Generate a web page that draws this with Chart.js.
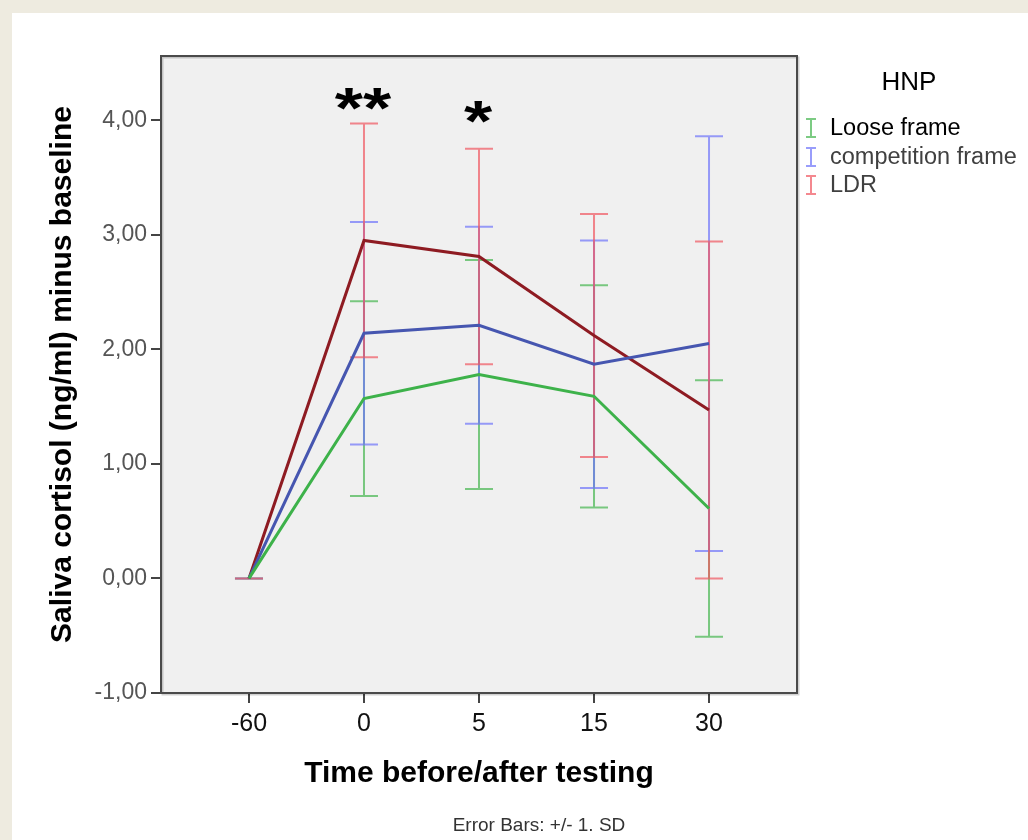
<!DOCTYPE html>
<html>
<head>
<meta charset="utf-8">
<script src="https://cdn.jsdelivr.net/npm/chart.js@4/dist/chart.umd.min.js"></script>
<style>
  html, body { margin: 0; padding: 0; background: #EEEBE0; width: 1028px; height: 840px; overflow: hidden; }
  #panel { position: absolute; left: 12px; top: 13px; width: 1016px; height: 827px; background: #FFFFFF; }
  canvas { display: block; }
</style>
</head>
<body>
<div id="panel"><canvas id="c" width="1016" height="827"></canvas></div>
<script>
// ---- Data ----
const categories = ['-60', '0', '5', '15', '30'];
const yTickValues = [-1, 0, 1, 2, 3, 4];

const looseMean = [0, 1.57, 1.78, 1.59, 0.61];
const looseSD   = [0, 0.85, 1.00, 0.97, 1.12];

const compMean  = [0, 2.14, 2.21, 1.87, 2.05];
const compSD    = [0, 0.97, 0.86, 1.08, 1.81];

const ldrMean   = [0, 2.95, 2.81, 2.12, 1.47];
const ldrSD     = [0, 1.02, 0.94, 1.06, 1.47];

const seriesNames = ['Loose frame', 'competition frame', 'LDR'];
const significance = ['', '**', '*', '', ''];
const legendTitle = 'HNP';
const footnote = 'Error Bars: +/- 1. SD';

// ---- Styles ----
const lineColors = ['#3DB24A', '#4656B0', '#8E1B22'];
const barColors  = ['rgba(80,185,90,0.75)', 'rgba(110,115,250,0.7)', 'rgba(240,85,95,0.7)'];
const FONT = '"Liberation Sans", Arial, Helvetica, sans-serif';

const means = [looseMean, compMean, ldrMean];
const sds = [looseSD, compSD, ldrSD];

const toXY = arr => arr.map((v, i) => ({ x: i, y: v }));

const framePlugin = {
  id: 'frame',
  beforeDatasetsDraw(chart) {
    const { ctx, chartArea: a } = chart;
    ctx.save();
    ctx.fillStyle = '#F0F0F0';
    ctx.fillRect(a.left, a.top, a.right - a.left, a.bottom - a.top);
    // error bars
    const xs = chart.scales.x, ys = chart.scales.y;
    ctx.lineWidth = 2;
    for (let s = 0; s < means.length; s++) {
      ctx.strokeStyle = barColors[s];
      for (let i = 0; i < means[s].length; i++) {
        const x = xs.getPixelForValue(i);
        const yHi = ys.getPixelForValue(means[s][i] + sds[s][i]);
        const yLo = ys.getPixelForValue(means[s][i] - sds[s][i]);
        ctx.beginPath();
        ctx.moveTo(x, yHi); ctx.lineTo(x, yLo);
        ctx.moveTo(x - 14, yHi); ctx.lineTo(x + 14, yHi);
        ctx.moveTo(x - 14, yLo); ctx.lineTo(x + 14, yLo);
        ctx.stroke();
      }
    }
    ctx.restore();
  },
  afterDatasetsDraw(chart) {
    const { ctx, chartArea: a } = chart;
    ctx.save();
    // shadow + frame
    ctx.strokeStyle = 'rgba(0,0,0,0.18)';
    ctx.lineWidth = 2;
    ctx.strokeRect(a.left + 1.5, a.top + 1.5, a.right - a.left, a.bottom - a.top);
    ctx.strokeStyle = '#4A4A4A';
    ctx.lineWidth = 2;
    ctx.strokeRect(a.left, a.top, a.right - a.left, a.bottom - a.top);

    // significance stars
    const xs = chart.scales.x;
    ctx.fillStyle = '#000';
    ctx.font = 'bold 58px ' + FONT;
    ctx.textAlign = 'center';
    ctx.textBaseline = 'alphabetic';
    const starBase = [0, 115, 128, 0, 0];
    significance.forEach((t, i) => {
      if (!t) return;
      ctx.save();
      ctx.translate(xs.getPixelForValue(i) - 1, starBase[i]);
      ctx.scale(1.25, 1);
      ctx.fillText(t, 0, 0);
      ctx.restore();
    });

    // legend
    ctx.font = '26px ' + FONT;
    ctx.fillStyle = '#000';
    ctx.textAlign = 'center';
    ctx.textBaseline = 'middle';
    ctx.fillText(legendTitle, 897, 70);
    const rowsY = [115, 144, 172];
    const textColors = ['#000', '#404040', '#404040'];
    ctx.textAlign = 'left';
    ctx.font = '23.5px ' + FONT;
    seriesNames.forEach((n, k) => {
      const y = rowsY[k];
      const ix = 799;
      ctx.strokeStyle = barColors[k];
      ctx.lineWidth = 2;
      ctx.beginPath();
      ctx.moveTo(ix, y - 9); ctx.lineTo(ix, y + 9);
      ctx.moveTo(ix - 5, y - 9); ctx.lineTo(ix + 5, y - 9);
      ctx.moveTo(ix - 5, y + 9); ctx.lineTo(ix + 5, y + 9);
      ctx.stroke();
      ctx.fillStyle = textColors[k];
      ctx.fillText(n, 818, y + 1);
    });

    // footnote
    ctx.font = '19px ' + FONT;
    ctx.fillStyle = '#333';
    ctx.textAlign = 'center';
    ctx.fillText(footnote, 527, 813);
    ctx.restore();
  }
};

new Chart(document.getElementById('c'), {
  type: 'line',
  data: {
    datasets: means.map((m, s) => ({
      label: seriesNames[s],
      data: toXY(m),
      borderColor: lineColors[s],
      backgroundColor: lineColors[s],
      borderWidth: 3,
      pointRadius: 0,
      tension: 0,
      fill: false
    }))
  },
  options: {
    responsive: false,
    devicePixelRatio: 1,
    animation: false,
    layout: { padding: { left: 0, top: 43, right: 231, bottom: 0 } },
    plugins: { legend: { display: false }, tooltip: { enabled: false } },
    scales: {
      x: {
        type: 'linear',
        min: -0.765,
        max: 4.765,
        afterBuildTicks: sc => { sc.ticks = categories.map((c, i) => ({ value: i })); },
        afterFit: sc => { sc.height = 147; },
        ticks: {
          callback: v => categories[Math.round(v)],
          font: { family: FONT, size: 25 },
          color: '#111',
          padding: 6,
          maxRotation: 0,
          autoSkip: false
        },
        grid: { display: true, drawOnChartArea: false, drawTicks: true, tickLength: 10, color: '#444', lineWidth: 2 },
        border: { display: false },
        title: {
          display: true,
          text: 'Time before/after testing',
          font: { family: FONT, size: 30, weight: 'bold' },
          color: '#000',
          padding: { top: 0, bottom: 48 }
        }
      },
      y: {
        type: 'linear',
        min: -1,
        max: 4.56,
        afterBuildTicks: sc => { sc.ticks = yTickValues.map(v => ({ value: v })); },
        afterFit: sc => { sc.width = 149; },
        ticks: {
          callback: v => v.toFixed(2).replace('.', ','),
          font: { family: FONT, size: 23 },
          color: '#555',
          padding: 4
        },
        grid: { display: true, drawOnChartArea: false, drawTicks: true, tickLength: 10, color: '#444', lineWidth: 2 },
        border: { display: false },
        title: {
          display: true,
          text: 'Saliva cortisol (ng/ml) minus baseline',
          font: { family: FONT, size: 30, weight: 'bold' },
          color: '#000',
          padding: { top: 33, bottom: 0 }
        }
      }
    }
  },
  plugins: [framePlugin]
});
</script>
</body>
</html>
